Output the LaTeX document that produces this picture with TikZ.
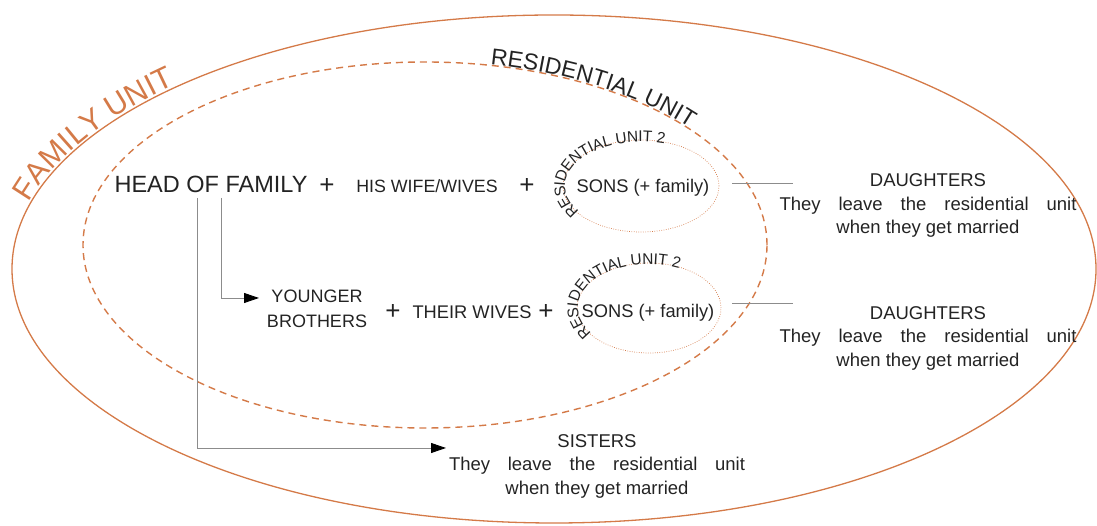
\documentclass[tikz,border=0pt]{standalone}
\usepackage{fontspec}
\setmainfont{Liberation Sans}
\usetikzlibrary{arrows.meta,decorations.text}
\definecolor{orng}{RGB}{212,122,72}
\definecolor{ink}{RGB}{35,35,35}
\definecolor{conncol}{RGB}{140,140,140}
\begin{document}
\begin{tikzpicture}[x=1pt,y=1pt,
  txt/.style={text=ink, inner sep=0pt},
  bigtxt/.style={txt, anchor=base, font=\fontsize{23.5}{28}\selectfont},
  midtxt/.style={txt, anchor=base, font=\fontsize{18.3}{25}\selectfont},
  plustxt/.style={txt, anchor=base, font=\fontsize{26}{30}\selectfont},
  paratxt/.style={txt, align=center, font=\fontsize{18.5}{23.5}\selectfont},
  conn/.style={draw=conncol, line width=0.9pt},
  arr/.style={conn, -{Triangle[length=15pt,width=10pt,color=black]}},
  outerell/.style={draw=orng, line width=1.3pt},
  residell/.style={draw=orng, line width=1.4pt, dash pattern=on 7pt off 5pt},
  subell/.style={draw=orng, line width=0.7pt, dash pattern=on 0.7pt off 1.6pt},
]
\useasboundingbox (0,0) rectangle (1097,526);

% ellipses
\draw[outerell] (554,257) ellipse [x radius=542pt, y radius=254pt];
\draw[residell] (425,281) ellipse [x radius=342pt, y radius=183pt];
\draw[subell] (641,340) ellipse [x radius=78pt, y radius=46pt];
\draw[subell] (649,218) ellipse [x radius=72pt, y radius=45pt];

% curved labels
\path[decorate, decoration={text along path, text color=orng, raise=2pt,
  text={|\fontsize{30.5}{30}\selectfont|FAMILY UNIT}}]
  (554,257) ++(165:542pt and 254pt)
  arc[start angle=165, end angle=100, x radius=542pt, y radius=254pt];
\path[decorate, decoration={text along path, text color=ink, raise=1pt,
  text={|\fontsize{23}{23}\selectfont|RESIDENTIAL UNIT}}]
  (425,281) ++(79:342pt and 183pt)
  arc[start angle=79, end angle=15, x radius=342pt, y radius=183pt];
\path[decorate, decoration={text along path, text color=ink, raise=-2pt,
  text={|\fontsize{15.5}{15}\selectfont|RESIDENTIAL UNIT 2}}]
  (641,340) ++(216:78pt and 46pt)
  arc[start angle=216, end angle=0, x radius=78pt, y radius=46pt];
\path[decorate, decoration={text along path, text color=ink, raise=-1pt,
  text={|\fontsize{15.5}{15}\selectfont|RESIDENTIAL UNIT 2}}]
  (649,218) ++(216:72pt and 45pt)
  arc[start angle=216, end angle=0, x radius=72pt, y radius=45pt];

% first row
\node[bigtxt] (head) at (211,333) {HEAD OF FAMILY};
\node[plustxt] (p1) at (327,332) {+};
\node[midtxt, font=\fontsize{17.8}{22}\selectfont] (wife) at (427,333) {HIS WIFE/WIVES};
\node[plustxt] (p2) at (527,332) {+};
\node[midtxt] (sons1) at (643,333) {SONS (+ family)};
\node[paratxt] (dau1) at (928,320.5) {DAUGHTERS\\\makebox[297pt][s]{They leave the residential unit}\\when they get married};

% second row
\node[txt, align=center, font=\fontsize{18}{25}\selectfont] (younger) at (317,217.5) {YOUNGER\\BROTHERS};
\node[plustxt] (p3) at (393,206) {+};
\node[midtxt] (wives2) at (472,207) {THEIR WIVES};
\node[plustxt] (p4) at (546,206) {+};
\node[midtxt] (sons2) at (648,208) {SONS (+ family)};
\node[paratxt] (dau2) at (928,188) {DAUGHTERS\\\makebox[297pt][s]{They leave the residential unit}\\when they get married};

% sisters
\node[paratxt] (sis) at (597,60) {SISTERS\\\makebox[296pt][s]{They leave the residential unit}\\when they get married};

% connectors
\coordinate (hs1) at (197,328);
\coordinate (hs2) at (221,328);
\coordinate (brotip) at (259,228);
\coordinate (sistip) at (446,78);
\draw[arr] (hs2) |- (brotip);
\draw[arr] (hs1) |- (sistip);

\coordinate (d1a) at (732,343);
\coordinate (d1b) at (793,343);
\coordinate (d2a) at (732,223);
\coordinate (d2b) at (793,223);
\draw[conn] (d1a) -- (d1b);
\draw[conn] (d2a) -- (d2b);
\end{tikzpicture}
\end{document}
